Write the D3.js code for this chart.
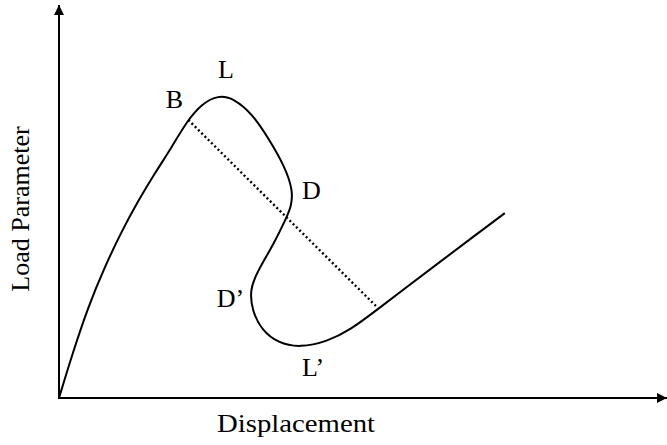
<!DOCTYPE html>
<html lang="en">
<head>
	<title>Load - Displacement Path</title>
	<script src="https://d3js.org/d3.v7.min.js" charset="utf-8"></script>
	<style>
		body { margin: 0; background: #fff; }
		text { font-family: "Liberation Serif", "Times New Roman", serif; fill: #000; }
	</style>
</head>
<body>
	<div id="container"></div>

	<script>
		// curve (arbitrary units, displacement 0-100, load 0-100)
		var displacement = [0, 2.17, 4.83, 7.67, 10.5, 13.17, 16.0, 18.67, 21.33, 23.8, 26.5, 29.3, 32.2, 34.8, 37.7, 39.0, 38.7, 37.8, 35.8, 33.0, 31.8, 32.2, 33.8, 36.5, 40.2, 44.7, 48.5, 53.0, 58.0, 63.5, 69.0, 74.3];
		var load = [0, 11.0, 23.3, 33.8, 42.9, 50.5, 57.7, 64.0, 71.0, 75.4, 77.7, 76.7, 72.8, 66.9, 59.2, 53.1, 49.0, 45.9, 39.5, 32.3, 27.7, 22.3, 17.4, 14.1, 12.9, 14.5, 17.4, 22.6, 28.5, 34.9, 41.3, 47.4];

		// dotted line from B to the restabilised branch
		var chordX = [21.55, 52.95];
		var chordY = [71.3, 23.4];

		// point labels
		var labelNames = ["B", "L", "D", "D\u2019", "L\u2019"];
		var labelX = [17.8, 26.5, 40.5, 26.3, 40.5];
		var labelY = [74.4, 82.0, 51.0, 23.3, 5.6];

		var svgWidth = 667,
			svgHeight = 445,
			svg = d3.select("#container")
				.append("svg")
				.attr("width", svgWidth)
				.attr("height", svgHeight);

		var x = d3.scaleLinear().domain([0, 100]).range([59, 659]);
		var y = d3.scaleLinear().domain([0, 100]).range([398, 8]);

		// axes with arrow heads
		var defs = svg.append("defs");
		defs.append("marker")
			.attr("id", "arrow")
			.attr("viewBox", "0 0 10 10")
			.attr("refX", 10)
			.attr("refY", 5)
			.attr("markerWidth", 5)
			.attr("markerHeight", 5)
			.attr("markerUnits", "strokeWidth")
			.attr("orient", "auto")
			.append("path")
			.attr("d", "M0,0L10,5L0,10Z")
			.attr("fill", "#000");

		svg.append("line")
			.attr("x1", x(0)).attr("y1", y(0))
			.attr("x2", x(0)).attr("y2", 5)
			.attr("stroke", "#000")
			.attr("stroke-width", 2)
			.attr("marker-end", "url(#arrow)");

		svg.append("line")
			.attr("x1", x(0) - 1).attr("y1", y(0))
			.attr("x2", 667).attr("y2", y(0))
			.attr("stroke", "#000")
			.attr("stroke-width", 2)
			.attr("marker-end", "url(#arrow)");

		// the equilibrium path
		var points = displacement.map(function(d, i) { return [d, load[i]]; });
		var line = d3.line()
			.x(function(d) { return x(d[0]); })
			.y(function(d) { return y(d[1]); })
			.curve(d3.curveBasis);

		svg.append("path")
			.datum(points)
			.attr("d", line)
			.attr("fill", "none")
			.attr("stroke", "#000")
			.attr("stroke-width", 2);

		svg.append("line")
			.attr("x1", x(chordX[0])).attr("y1", y(chordY[0]))
			.attr("x2", x(chordX[1])).attr("y2", y(chordY[1]))
			.attr("stroke", "#000")
			.attr("stroke-width", 2.4)
			.attr("stroke-dasharray", "2,2.6");

		svg.selectAll("text.point")
			.data(labelNames)
			.enter()
			.append("text")
			.attr("class", "point")
			.attr("x", function(d, i) { return x(labelX[i]); })
			.attr("y", function(d, i) { return y(labelY[i]); })
			.attr("font-size", 26)
			.text(function(d) { return d; });

		// axis titles
		svg.append("text")
			.attr("x", 217)
			.attr("y", 432)
			.attr("font-size", 26)
			.attr("textLength", 158)
			.attr("lengthAdjust", "spacingAndGlyphs")
			.text("Displacement");

		svg.append("text")
			.attr("transform", "translate(29,209) rotate(-90)")
			.attr("text-anchor", "middle")
			.attr("font-size", 26)
			.text("Load Parameter");
	</script>
</body>
</html>
